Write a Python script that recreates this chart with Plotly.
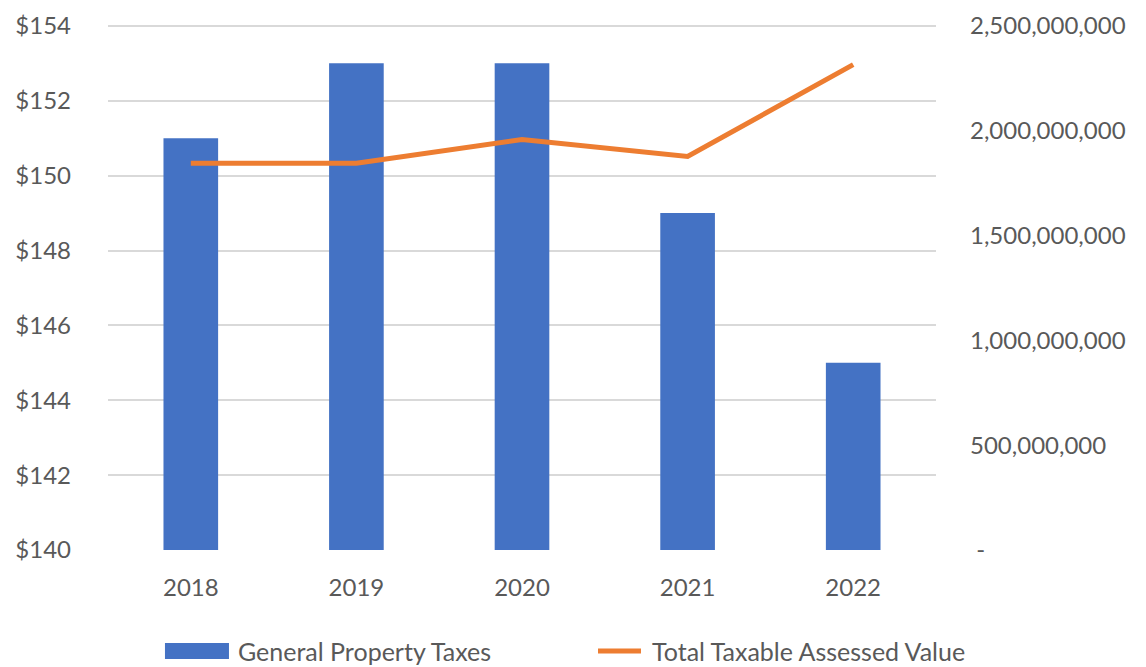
import plotly.graph_objects as go

years = ["2018", "2019", "2020", "2021", "2022"]
taxes = [151, 153, 153, 149, 145]
assessed = [1.845e9, 1.845e9, 1.958e9, 1.877e9, 2.315e9]
left_ticks = [140, 142, 144, 146, 148, 150, 152, 154]
left_labels = ["$" + str(v) for v in left_ticks]
right_ticks = [0, 5e8, 1e9, 1.5e9, 2e9, 2.5e9]
right_labels = [" -", "500,000,000", "1,000,000,000", "1,500,000,000", "2,000,000,000", "2,500,000,000"]
series_names = ["General Property Taxes", "Total Taxable Assessed Value"]

BLUE = "#4472C4"
ORANGE = "#ED7D31"
font = dict(family="Lato, Noto Sans, sans-serif", size=24, color="#595959")
legend_font = dict(family="Lato, Noto Sans, sans-serif", size=25, color="#595959")

fig = go.Figure()
fig.add_trace(go.Bar(x=years, y=[v - 140 for v in taxes], base=140, name=series_names[0],
                     marker=dict(color=BLUE, line=dict(width=0)), yaxis="y", showlegend=False))
fig.add_trace(go.Scatter(x=years, y=assessed, name=series_names[1], mode="lines",
                         line=dict(color=ORANGE, width=5), yaxis="y2", showlegend=False))

# legend drawn as layout decoration (paper coordinates)
LEG_Y = -0.192
fig.add_shape(type="rect", xref="paper", yref="paper", x0=0.0688, x1=0.1461, y0=-0.2072, y1=-0.1768,
              fillcolor=BLUE, line=dict(width=0))
fig.add_shape(type="line", xref="paper", yref="paper", x0=0.5918, x1=0.6437, y0=LEG_Y, y1=LEG_Y,
              line=dict(color=ORANGE, width=5))
fig.add_annotation(xref="paper", yref="paper", x=0.1546, y=LEG_Y, xanchor="left", yanchor="middle",
                   text=series_names[0], showarrow=False, font=legend_font)
fig.add_annotation(xref="paper", yref="paper", x=0.6546, y=LEG_Y, xanchor="left", yanchor="middle",
                   text=series_names[1], showarrow=False, font=legend_font)

fig.update_layout(
    width=1138, height=659,
    margin=dict(l=100, r=210, t=16, b=117, autoexpand=False),
    plot_bgcolor="white", paper_bgcolor="white",
    font=font,
    bargap=0.67,
    showlegend=False,
    xaxis=dict(showgrid=False, showline=False, ticks="", tickfont=font, ticklabelstandoff=21,
               automargin=False),
    yaxis=dict(range=[140, 154.05], tickvals=left_ticks, ticktext=left_labels,
               showgrid=True, gridcolor="#d9d9d9", gridwidth=1.5, zeroline=False,
               showline=False, ticks="", tickfont=font, ticklabelstandoff=36, automargin=False),
    yaxis2=dict(range=[0, 2.5e9 * 14.05 / 14], tickvals=right_ticks, ticktext=right_labels,
                overlaying="y", side="right", showgrid=False, zeroline=False,
                showline=False, ticks="", tickfont=font, ticklabelstandoff=33, automargin=False),
)

fig.write_html("out.html")
